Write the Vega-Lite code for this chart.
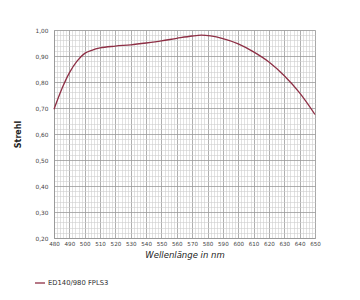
{
  "$schema": "https://vega.github.io/schema/vega-lite/v6.json",
  "width": 261,
  "height": 208,
  "autosize": {"type": "none"},
  "padding": {"left": 54, "top": 30, "right": 45, "bottom": 62},
  "background": "white",
  "data": {"values": [
    {"nm": 480, "strehl": 0.695, "serie": "ED140/980  FPLS3"},
    {"nm": 485, "strehl": 0.772, "serie": "ED140/980  FPLS3"},
    {"nm": 490, "strehl": 0.835, "serie": "ED140/980  FPLS3"},
    {"nm": 495, "strehl": 0.88, "serie": "ED140/980  FPLS3"},
    {"nm": 500, "strehl": 0.91, "serie": "ED140/980  FPLS3"},
    {"nm": 505, "strehl": 0.923, "serie": "ED140/980  FPLS3"},
    {"nm": 510, "strehl": 0.931, "serie": "ED140/980  FPLS3"},
    {"nm": 520, "strehl": 0.938, "serie": "ED140/980  FPLS3"},
    {"nm": 530, "strehl": 0.943, "serie": "ED140/980  FPLS3"},
    {"nm": 540, "strehl": 0.95, "serie": "ED140/980  FPLS3"},
    {"nm": 550, "strehl": 0.958, "serie": "ED140/980  FPLS3"},
    {"nm": 560, "strehl": 0.968, "serie": "ED140/980  FPLS3"},
    {"nm": 570, "strehl": 0.977, "serie": "ED140/980  FPLS3"},
    {"nm": 576, "strehl": 0.98, "serie": "ED140/980  FPLS3"},
    {"nm": 582, "strehl": 0.977, "serie": "ED140/980  FPLS3"},
    {"nm": 590, "strehl": 0.967, "serie": "ED140/980  FPLS3"},
    {"nm": 600, "strehl": 0.947, "serie": "ED140/980  FPLS3"},
    {"nm": 610, "strehl": 0.916, "serie": "ED140/980  FPLS3"},
    {"nm": 620, "strehl": 0.877, "serie": "ED140/980  FPLS3"},
    {"nm": 630, "strehl": 0.824, "serie": "ED140/980  FPLS3"},
    {"nm": 640, "strehl": 0.758, "serie": "ED140/980  FPLS3"},
    {"nm": 650, "strehl": 0.675, "serie": "ED140/980  FPLS3"}
  ]},
  "resolve": {"axis": {"x": "independent", "y": "independent"}},
  "layer": [
    {
      "mark": {"type": "line", "strokeWidth": 0, "opacity": 0},
      "encoding": {
        "x": {"field": "nm", "type": "quantitative", "scale": {"domain": [480, 650], "nice": false, "zero": false},
          "axis": {"orient": "bottom", "values": [482,484,486,488,492,494,496,498,502,504,506,508,512,514,516,518,522,524,526,528,532,534,536,538,542,544,546,548,552,554,556,558,562,564,566,568,572,574,576,578,582,584,586,588,592,594,596,598,602,604,606,608,612,614,616,618,622,624,626,628,632,634,636,638,642,644,646,648],
            "grid": true, "gridColor": "#cfcfcf", "gridWidth": 0.6, "labels": false, "ticks": false, "domain": false, "title": null}},
        "y": {"field": "strehl", "type": "quantitative", "scale": {"domain": [0.2, 1.0], "nice": false, "zero": false},
          "axis": {"orient": "left", "values": [0.22,0.24,0.26,0.28,0.32,0.34,0.36,0.38,0.42,0.44,0.46,0.48,0.52,0.54,0.56,0.58,0.62,0.64,0.66,0.68,0.72,0.74,0.76,0.78,0.82,0.84,0.86,0.88,0.92,0.94,0.96,0.98],
            "grid": true, "gridColor": "#cfcfcf", "gridWidth": 0.6, "labels": false, "ticks": false, "domain": false, "title": null}}
      }
    },
    {
      "mark": {"type": "line", "color": "#8e2f45", "strokeWidth": 1.3, "interpolate": "monotone"},
      "encoding": {
        "x": {"field": "nm", "type": "quantitative", "scale": {"domain": [480, 650], "nice": false, "zero": false},
          "axis": {"orient": "bottom", "values": [480,490,500,510,520,530,540,550,560,570,580,590,600,610,620,630,640,650],
            "labelOverlap": false, "labelBound": false, "labelFlush": false,
            "grid": true, "gridColor": "#9a9a9a", "gridWidth": 0.8, "ticks": false, "domain": true, "domainColor": "#9a9a9a",
            "labelFont": "DejaVu Sans", "labelFontSize": 5.6, "labelColor": "#444", "labelPadding": 3,
            "title": "Wellenlänge in nm", "titleFont": "DejaVu Sans", "titleFontSize": 8.5, "titleFontStyle": "italic", "titleFontWeight": "normal", "titleColor": "#222", "titlePadding": 4}},
        "y": {"field": "strehl", "type": "quantitative", "scale": {"domain": [0.2, 1.0], "nice": false, "zero": false},
          "axis": {"orient": "left", "values": [0.2,0.3,0.4,0.5,0.6,0.7,0.8,0.9,1.0],
            "labelExpr": "replace(format(datum.value, '.2f'), '.', ',')",
            "labelOverlap": false,
            "grid": true, "gridColor": "#9a9a9a", "gridWidth": 0.8, "ticks": false, "domain": true, "domainColor": "#9a9a9a",
            "labelFont": "DejaVu Sans", "labelFontSize": 5.8, "labelColor": "#444", "labelPadding": 6,
            "title": "Strehl", "titleFont": "DejaVu Sans", "titleFontSize": 8, "titleFontWeight": "bold", "titleColor": "#222", "titlePadding": 13}},
        "color": {"field": "serie", "type": "nominal", "scale": {"range": ["#8e2f45"]},
          "legend": {"orient": "none", "legendX": -20, "legendY": 247, "title": null, "symbolType": "stroke", "symbolSize": 100, "symbolStrokeWidth": 1.3,
            "labelFont": "DejaVu Sans", "labelFontSize": 6.8, "labelColor": "#333", "labelOffset": 2}}
      }
    }
  ]
}
